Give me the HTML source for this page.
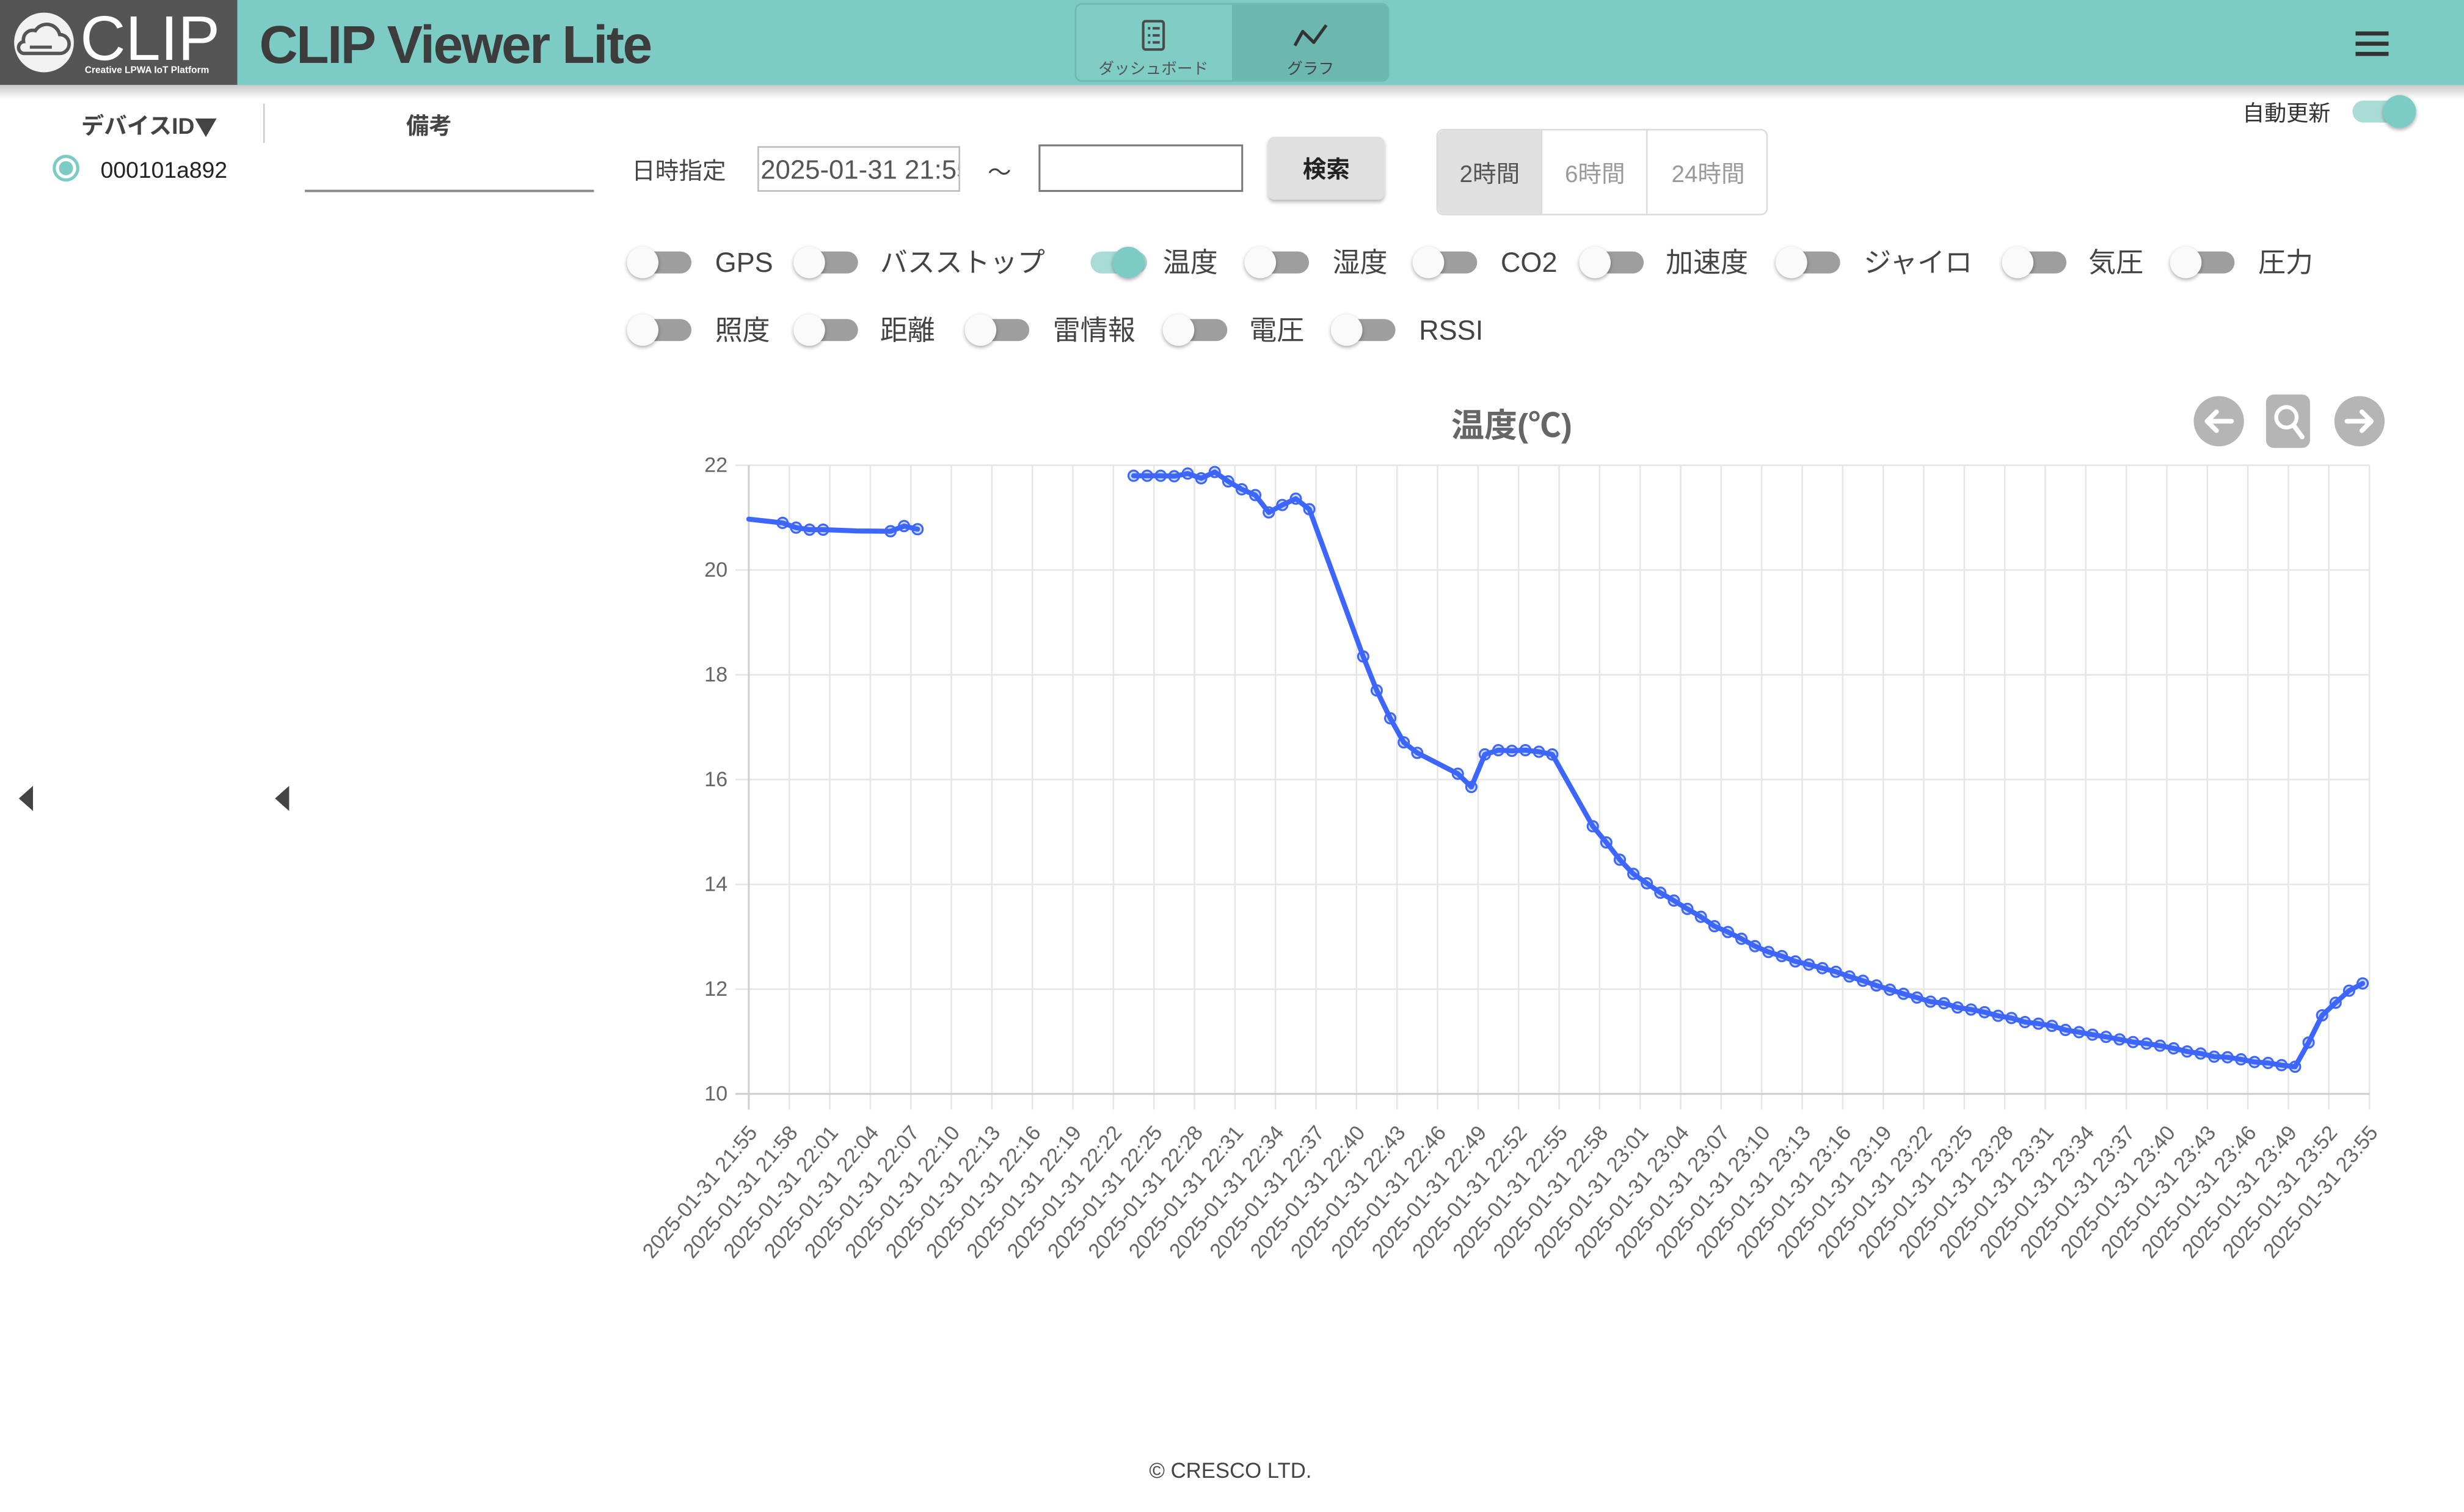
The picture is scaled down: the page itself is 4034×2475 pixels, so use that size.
<!DOCTYPE html>
<html><head><meta charset="utf-8"><title>CLIP Viewer Lite</title>
<style>
html,body{margin:0;padding:0;width:4034px;height:2475px;overflow:hidden;background:#fff;}
svg{display:block;}
</style></head>
<body>
<svg xmlns="http://www.w3.org/2000/svg" width="4034" height="2475" viewBox="0 0 1568 962" preserveAspectRatio="none" font-family='"Liberation Sans","Noto Sans CJK JP",sans-serif'>
<defs>
<filter id="sh" x="-60%" y="-60%" width="220%" height="220%"><feDropShadow dx="0" dy="1" stdDeviation="1.2" flood-color="#000" flood-opacity="0.35"/></filter>
<filter id="sh2" x="-20%" y="-20%" width="140%" height="160%"><feDropShadow dx="0" dy="1.5" stdDeviation="1.2" flood-color="#000" flood-opacity="0.3"/></filter>
<linearGradient id="hs" x1="0" y1="0" x2="0" y2="1"><stop offset="0" stop-color="#000" stop-opacity="0.22"/><stop offset="1" stop-color="#000" stop-opacity="0"/></linearGradient>
<clipPath id="c1"><rect x="483" y="94" width="127" height="27"/></clipPath>
</defs>
<rect x="0" y="0" width="1568" height="962" fill="#fff"/>

<!-- Header -->
<rect x="0" y="54" width="1568" height="9" fill="url(#hs)"/>
<rect x="0" y="0" width="1568" height="54" fill="#7ccbc4"/>
<rect x="0" y="0" width="151" height="54" fill="#555"/>
<circle cx="28" cy="27" r="19" fill="#f2f2f2"/>
<path d="M15 34 H38 A6 6 0 0 0 38 22 A8.5 8.5 0 0 0 22.5 19.5 A6 6 0 0 0 15 26.5 A3.8 3.8 0 0 0 15 34 Z" fill="none" stroke="#555" stroke-width="2.2"/>
<path d="M19 30 H33" stroke="#555" stroke-width="2"/>
<text x="51" y="38" font-size="40" fill="#fff">CLIP</text>
<text x="54" y="46.5" font-size="6" font-weight="bold" fill="#fff">Creative LPWA IoT Platform</text>
<text x="165" y="40" font-size="34" font-weight="bold" fill="#3c3c3c" letter-spacing="-1">CLIP Viewer Lite</text>

<rect x="684.5" y="2.5" width="199" height="49" rx="4" fill="#80cdc6" stroke="rgba(0,0,0,0.1)"/>
<path d="M784 3 H879.5 A4 4 0 0 1 883.5 7 V47 A4 4 0 0 1 879.5 51 H784 Z" fill="#6cb8b1"/>
<rect x="727.5" y="13.5" width="13" height="18" rx="1.5" fill="none" stroke="#4a4a4a" stroke-width="1.6"/>
<path d="M730.5 18 h1.5 M730.5 22.5 h1.5 M730.5 27 h1.5 M733.5 18 h4.5 M733.5 22.5 h4.5 M733.5 27 h4.5" stroke="#4a4a4a" stroke-width="1.6"/>
<text x="734" y="44" font-size="10" text-anchor="middle" dominant-baseline="central" fill="#555">ダッシュボード</text>
<polyline points="824,29 829,20 836,27 844,16" fill="none" stroke="#333" stroke-width="2" stroke-linejoin="round"/>
<text x="834" y="44" font-size="10" text-anchor="middle" dominant-baseline="central" fill="#444">グラフ</text>
<rect x="1499" y="20" width="21" height="2.6" fill="#333"/>
<rect x="1499" y="26.5" width="21" height="2.6" fill="#333"/>
<rect x="1499" y="33" width="21" height="2.6" fill="#333"/>

<!-- Left panel -->
<text x="95" y="80" font-size="14.5" font-weight="bold" text-anchor="middle" dominant-baseline="central" fill="#444">デバイスID<tspan font-family='"Noto Sans CJK JP",sans-serif'>▼</tspan></text>
<line x1="168" y1="66" x2="168" y2="91" stroke="#ccc" stroke-width="1"/>
<text x="273" y="80" font-size="14.5" font-weight="bold" text-anchor="middle" dominant-baseline="central" fill="#444">備考</text>
<circle cx="42" cy="107" r="7.5" fill="#fff" stroke="#7ccbc4" stroke-width="2"/>
<circle cx="42" cy="107" r="4.5" fill="#7ccbc4"/>
<text x="64" y="108" font-size="14.5" dominant-baseline="central" fill="#222">000101a892</text>
<line x1="194" y1="121.5" x2="378" y2="121.5" stroke="#8a8a8a" stroke-width="1.5"/>
<polygon points="21,500 21,516 12,508" fill="#444"/>
<polygon points="184,500 184,516 175,508" fill="#444"/>

<!-- Date row -->
<text x="402" y="109" font-size="15" dominant-baseline="central" fill="#444">日時指定</text>
<rect x="482.5" y="93.5" width="128" height="28" fill="#fff" stroke="#bdbdbd"/>
<text x="484" y="108" font-size="17" dominant-baseline="central" fill="#555" clip-path="url(#c1)">2025-01-31 21:55</text>
<text x="636" y="110" font-size="15" text-anchor="middle" dominant-baseline="central" fill="#444">～</text>
<rect x="661.5" y="92.5" width="129" height="29" fill="#fff" stroke="#7a7a7a" stroke-width="1.2"/>
<rect x="807" y="87" width="74" height="40" rx="4" fill="#e0e0e0" filter="url(#sh2)"/>
<text x="844" y="108" font-size="15" font-weight="bold" text-anchor="middle" dominant-baseline="central" fill="#222">検索</text>
<rect x="914.5" y="82.5" width="210" height="54" rx="4" fill="#fff" stroke="#dcdcdc"/>
<path d="M981 83 H919 A4 4 0 0 0 915 87 V132 A4 4 0 0 0 919 136 H981 Z" fill="#e0e0e0"/>
<line x1="981" y1="83" x2="981" y2="136" stroke="#dcdcdc"/>
<line x1="1048" y1="83" x2="1048" y2="136" stroke="#dcdcdc"/>
<text x="948" y="111" font-size="15" text-anchor="middle" dominant-baseline="central" fill="#555">2時間</text>
<text x="1015" y="111" font-size="15" text-anchor="middle" dominant-baseline="central" fill="#9a9a9a">6時間</text>
<text x="1087" y="111" font-size="15" text-anchor="middle" dominant-baseline="central" fill="#9a9a9a">24時間</text>

<text x="1455" y="72" font-size="14" text-anchor="middle" dominant-baseline="central" fill="#333">自動更新</text>
<rect x="1497" y="64" width="40" height="14" rx="7" fill="#aadcd7"/>
<circle cx="1527" cy="71" r="10.5" fill="#7ccbc4" filter="url(#sh)"/>

<!-- Toggles row 1 -->
<g font-size="17.5" fill="#444" dominant-baseline="central">
<rect x="404" y="160" width="36" height="14" rx="7" fill="#9e9e9e"/><circle cx="409" cy="167" r="10" fill="#fafafa" filter="url(#sh)"/><text x="455" y="167">GPS</text>
<rect x="510" y="160" width="36" height="14" rx="7" fill="#9e9e9e"/><circle cx="515" cy="167" r="10" fill="#fafafa" filter="url(#sh)"/><text x="560" y="167">バスストップ</text>
<rect x="694" y="160" width="36" height="14" rx="7" fill="#aadcd7"/><circle cx="718" cy="167" r="10" fill="#7ccbc4" filter="url(#sh)"/><text x="740" y="167">温度</text>
<rect x="797" y="160" width="36" height="14" rx="7" fill="#9e9e9e"/><circle cx="802" cy="167" r="10" fill="#fafafa" filter="url(#sh)"/><text x="848" y="167">湿度</text>
<rect x="904" y="160" width="36" height="14" rx="7" fill="#9e9e9e"/><circle cx="909" cy="167" r="10" fill="#fafafa" filter="url(#sh)"/><text x="955" y="167">CO2</text>
<rect x="1010" y="160" width="36" height="14" rx="7" fill="#9e9e9e"/><circle cx="1015" cy="167" r="10" fill="#fafafa" filter="url(#sh)"/><text x="1060" y="167">加速度</text>
<rect x="1135" y="160" width="36" height="14" rx="7" fill="#9e9e9e"/><circle cx="1140" cy="167" r="10" fill="#fafafa" filter="url(#sh)"/><text x="1186" y="167">ジャイロ</text>
<rect x="1279" y="160" width="36" height="14" rx="7" fill="#9e9e9e"/><circle cx="1284" cy="167" r="10" fill="#fafafa" filter="url(#sh)"/><text x="1329" y="167">気圧</text>
<rect x="1386" y="160" width="36" height="14" rx="7" fill="#9e9e9e"/><circle cx="1391" cy="167" r="10" fill="#fafafa" filter="url(#sh)"/><text x="1437" y="167">圧力</text>
<!-- row 2 -->
<rect x="404" y="203" width="36" height="14" rx="7" fill="#9e9e9e"/><circle cx="409" cy="210" r="10" fill="#fafafa" filter="url(#sh)"/><text x="455" y="210">照度</text>
<rect x="510" y="203" width="36" height="14" rx="7" fill="#9e9e9e"/><circle cx="515" cy="210" r="10" fill="#fafafa" filter="url(#sh)"/><text x="560" y="210">距離</text>
<rect x="619" y="203" width="36" height="14" rx="7" fill="#9e9e9e"/><circle cx="624" cy="210" r="10" fill="#fafafa" filter="url(#sh)"/><text x="670" y="210">雷情報</text>
<rect x="745" y="203" width="36" height="14" rx="7" fill="#9e9e9e"/><circle cx="750" cy="210" r="10" fill="#fafafa" filter="url(#sh)"/><text x="795" y="210">電圧</text>
<rect x="852" y="203" width="36" height="14" rx="7" fill="#9e9e9e"/><circle cx="857" cy="210" r="10" fill="#fafafa" filter="url(#sh)"/><text x="903" y="210">RSSI</text>
</g>

<!-- Chart title & icons -->
<text x="962" y="271" font-size="21" font-weight="bold" text-anchor="middle" dominant-baseline="central" fill="#666">温度(℃)</text>
<circle cx="1412" cy="268" r="16" fill="#b5b5b5"/>
<path d="M1420 268 H1405 M1410.5 262 L1404.5 268 L1410.5 274" fill="none" stroke="#fff" stroke-width="3" stroke-linecap="round" stroke-linejoin="round"/>
<rect x="1442" y="251" width="28" height="34" rx="5" fill="#b5b5b5"/>
<circle cx="1455" cy="265.5" r="6.5" fill="none" stroke="#fff" stroke-width="2.5"/>
<line x1="1459.5" y1="270.5" x2="1465" y2="278" stroke="#fff" stroke-width="3" stroke-linecap="round"/>
<circle cx="1501.5" cy="268" r="16" fill="#b5b5b5"/>
<path d="M1493.5 268 H1508.5 M1503 262 L1509 268 L1503 274" fill="none" stroke="#fff" stroke-width="3" stroke-linecap="round" stroke-linejoin="round"/>

<!-- Grid -->
<path stroke="#e6e6e6" stroke-width="1" fill="none" d="M502.28 296V706M528.07 296V706M553.85 296V706M579.63 296V706M605.41 296V706M631.2 296V706M656.98 296V706M682.76 296V706M708.54 296V706M734.33 296V706M760.11 296V706M785.89 296V706M811.67 296V706M837.46 296V706M863.24 296V706M889.02 296V706M914.8 296V706M940.59 296V706M966.37 296V706M992.15 296V706M1017.93 296V706M1043.72 296V706M1069.5 296V706M1095.28 296V706M1121.06 296V706M1146.85 296V706M1172.63 296V706M1198.41 296V706M1224.19 296V706M1249.98 296V706M1275.76 296V706M1301.54 296V706M1327.32 296V706M1353.11 296V706M1378.89 296V706M1404.67 296V706M1430.45 296V706M1456.24 296V706M1482.02 296V706M1507.8 296V706M468 296H1507.8M468 362.67H1507.8M468 429.33H1507.8M468 496H1507.8M468 562.67H1507.8M468 629.33H1507.8"/>
<path stroke="#d0d0d0" stroke-width="1.2" fill="none" d="M476.5 296V706M468 696H1507.8"/>

<!-- Y labels -->
<g font-size="13.3" fill="#666" text-anchor="end" dominant-baseline="central">
<text x="463" y="296">22</text><text x="463" y="362.7">20</text><text x="463" y="429.3">18</text><text x="463" y="496">16</text><text x="463" y="562.7">14</text><text x="463" y="629.3">12</text><text x="463" y="696">10</text>
</g>

<!-- X labels -->
<g font-size="13.3" fill="#666" text-anchor="end">
<text transform="translate(482.5,721) rotate(-50)">2025-01-31 21:55</text>
<text transform="translate(508.28,721) rotate(-50)">2025-01-31 21:58</text>
<text transform="translate(534.07,721) rotate(-50)">2025-01-31 22:01</text>
<text transform="translate(559.85,721) rotate(-50)">2025-01-31 22:04</text>
<text transform="translate(585.63,721) rotate(-50)">2025-01-31 22:07</text>
<text transform="translate(611.41,721) rotate(-50)">2025-01-31 22:10</text>
<text transform="translate(637.2,721) rotate(-50)">2025-01-31 22:13</text>
<text transform="translate(662.98,721) rotate(-50)">2025-01-31 22:16</text>
<text transform="translate(688.76,721) rotate(-50)">2025-01-31 22:19</text>
<text transform="translate(714.54,721) rotate(-50)">2025-01-31 22:22</text>
<text transform="translate(740.33,721) rotate(-50)">2025-01-31 22:25</text>
<text transform="translate(766.11,721) rotate(-50)">2025-01-31 22:28</text>
<text transform="translate(791.89,721) rotate(-50)">2025-01-31 22:31</text>
<text transform="translate(817.67,721) rotate(-50)">2025-01-31 22:34</text>
<text transform="translate(843.46,721) rotate(-50)">2025-01-31 22:37</text>
<text transform="translate(869.24,721) rotate(-50)">2025-01-31 22:40</text>
<text transform="translate(895.02,721) rotate(-50)">2025-01-31 22:43</text>
<text transform="translate(920.8,721) rotate(-50)">2025-01-31 22:46</text>
<text transform="translate(946.59,721) rotate(-50)">2025-01-31 22:49</text>
<text transform="translate(972.37,721) rotate(-50)">2025-01-31 22:52</text>
<text transform="translate(998.15,721) rotate(-50)">2025-01-31 22:55</text>
<text transform="translate(1023.93,721) rotate(-50)">2025-01-31 22:58</text>
<text transform="translate(1049.72,721) rotate(-50)">2025-01-31 23:01</text>
<text transform="translate(1075.5,721) rotate(-50)">2025-01-31 23:04</text>
<text transform="translate(1101.28,721) rotate(-50)">2025-01-31 23:07</text>
<text transform="translate(1127.06,721) rotate(-50)">2025-01-31 23:10</text>
<text transform="translate(1152.85,721) rotate(-50)">2025-01-31 23:13</text>
<text transform="translate(1178.63,721) rotate(-50)">2025-01-31 23:16</text>
<text transform="translate(1204.41,721) rotate(-50)">2025-01-31 23:19</text>
<text transform="translate(1230.19,721) rotate(-50)">2025-01-31 23:22</text>
<text transform="translate(1255.98,721) rotate(-50)">2025-01-31 23:25</text>
<text transform="translate(1281.76,721) rotate(-50)">2025-01-31 23:28</text>
<text transform="translate(1307.54,721) rotate(-50)">2025-01-31 23:31</text>
<text transform="translate(1333.32,721) rotate(-50)">2025-01-31 23:34</text>
<text transform="translate(1359.11,721) rotate(-50)">2025-01-31 23:37</text>
<text transform="translate(1384.89,721) rotate(-50)">2025-01-31 23:40</text>
<text transform="translate(1410.67,721) rotate(-50)">2025-01-31 23:43</text>
<text transform="translate(1436.45,721) rotate(-50)">2025-01-31 23:46</text>
<text transform="translate(1462.24,721) rotate(-50)">2025-01-31 23:49</text>
<text transform="translate(1488.02,721) rotate(-50)">2025-01-31 23:52</text>
<text transform="translate(1513.8,721) rotate(-50)">2025-01-31 23:55</text>
</g>

<!-- Data lines -->
<g fill="none" stroke="#3d66ff" stroke-width="3.2" stroke-linejoin="round" stroke-linecap="round">
<polyline points="476.5,330.3 498.0,332.7 506.6,335.7 515.2,337.0 523.8,337.0 545,337.8 566.7,338.0 575.3,334.7 583.9,336.7"/>
<polyline points="721.4,302.7 730.0,302.7 738.6,302.7 747.2,303.0 755.8,301.3 764.4,304.3 773.0,300.3 781.6,306.3 790.2,311.3 798.8,315.0 807.4,326.0 816.0,321.3 824.6,317.3 833.2,324.0 867.5,417.7 876.1,439.3 884.7,457.0 893.3,472.3 901.9,479.0 927.7,492.3 936.3,500.7 944.9,480.0 953.5,477.3 962.1,477.7 970.7,477.3 979.3,478.3 987.8,480.0 1013.6,525.7 1022.2,536.0 1030.8,547.0 1039.4,556.0 1048.0,562.0 1056.6,568.0 1065.2,573.0 1073.8,578.3 1082.4,583.3 1091.0,589.3 1099.6,593.0 1108.2,597.3 1116.8,602.0 1125.4,605.7 1133.9,608.3 1142.5,611.7 1151.1,613.7 1159.7,616.0 1168.3,618.3 1176.9,621.3 1185.5,624.0 1194.1,627.0 1202.7,629.7 1211.3,632.3 1219.9,634.7 1228.5,637.3 1237.1,638.3 1245.7,641.0 1254.3,642.3 1262.9,644.0 1271.5,646.3 1280.0,647.7 1288.6,650.3 1297.2,651.3 1305.8,652.7 1314.4,655.3 1323.0,656.7 1331.6,658.3 1340.2,659.7 1348.8,661.3 1357.4,663.0 1366.0,664.0 1374.6,665.3 1383.2,667.0 1391.8,669.0 1400.4,670.3 1409.0,672.3 1417.5,672.7 1426.1,674.0 1434.7,675.7 1443.3,676.3 1451.9,677.7 1460.5,678.7 1469.1,663.3 1477.7,646.0 1486.3,638.0 1494.9,630.3 1503.5,625.7"/>
</g>

<!-- Markers -->
<g fill="rgba(61,102,255,0.25)" stroke="#3d66ff" stroke-width="1.2">
<circle cx="498.0" cy="332.7" r="3.3"/><circle cx="506.6" cy="335.7" r="3.3"/><circle cx="515.2" cy="337.0" r="3.3"/><circle cx="523.8" cy="337.0" r="3.3"/><circle cx="566.7" cy="338.0" r="3.3"/><circle cx="575.3" cy="334.7" r="3.3"/><circle cx="583.9" cy="336.7" r="3.3"/>
<circle cx="721.4" cy="302.7" r="3.3"/><circle cx="730.0" cy="302.7" r="3.3"/><circle cx="738.6" cy="302.7" r="3.3"/><circle cx="747.2" cy="303.0" r="3.3"/><circle cx="755.8" cy="301.3" r="3.3"/><circle cx="764.4" cy="304.3" r="3.3"/><circle cx="773.0" cy="300.3" r="3.3"/><circle cx="781.6" cy="306.3" r="3.3"/><circle cx="790.2" cy="311.3" r="3.3"/><circle cx="798.8" cy="315.0" r="3.3"/><circle cx="807.4" cy="326.0" r="3.3"/><circle cx="816.0" cy="321.3" r="3.3"/><circle cx="824.6" cy="317.3" r="3.3"/><circle cx="833.2" cy="324.0" r="3.3"/>
<circle cx="867.5" cy="417.7" r="3.3"/><circle cx="876.1" cy="439.3" r="3.3"/><circle cx="884.7" cy="457.0" r="3.3"/><circle cx="893.3" cy="472.3" r="3.3"/><circle cx="901.9" cy="479.0" r="3.3"/><circle cx="927.7" cy="492.3" r="3.3"/><circle cx="936.3" cy="500.7" r="3.3"/><circle cx="944.9" cy="480.0" r="3.3"/><circle cx="953.5" cy="477.3" r="3.3"/><circle cx="962.1" cy="477.7" r="3.3"/><circle cx="970.7" cy="477.3" r="3.3"/><circle cx="979.3" cy="478.3" r="3.3"/><circle cx="987.8" cy="480.0" r="3.3"/>
<circle cx="1013.6" cy="525.7" r="3.3"/><circle cx="1022.2" cy="536.0" r="3.3"/><circle cx="1030.8" cy="547.0" r="3.3"/><circle cx="1039.4" cy="556.0" r="3.3"/><circle cx="1048.0" cy="562.0" r="3.3"/><circle cx="1056.6" cy="568.0" r="3.3"/><circle cx="1065.2" cy="573.0" r="3.3"/><circle cx="1073.8" cy="578.3" r="3.3"/><circle cx="1082.4" cy="583.3" r="3.3"/><circle cx="1091.0" cy="589.3" r="3.3"/><circle cx="1099.6" cy="593.0" r="3.3"/><circle cx="1108.2" cy="597.3" r="3.3"/><circle cx="1116.8" cy="602.0" r="3.3"/><circle cx="1125.4" cy="605.7" r="3.3"/><circle cx="1133.9" cy="608.3" r="3.3"/><circle cx="1142.5" cy="611.7" r="3.3"/><circle cx="1151.1" cy="613.7" r="3.3"/><circle cx="1159.7" cy="616.0" r="3.3"/><circle cx="1168.3" cy="618.3" r="3.3"/><circle cx="1176.9" cy="621.3" r="3.3"/><circle cx="1185.5" cy="624.0" r="3.3"/><circle cx="1194.1" cy="627.0" r="3.3"/><circle cx="1202.7" cy="629.7" r="3.3"/><circle cx="1211.3" cy="632.3" r="3.3"/><circle cx="1219.9" cy="634.7" r="3.3"/><circle cx="1228.5" cy="637.3" r="3.3"/><circle cx="1237.1" cy="638.3" r="3.3"/><circle cx="1245.7" cy="641.0" r="3.3"/><circle cx="1254.3" cy="642.3" r="3.3"/><circle cx="1262.9" cy="644.0" r="3.3"/><circle cx="1271.5" cy="646.3" r="3.3"/><circle cx="1280.0" cy="647.7" r="3.3"/><circle cx="1288.6" cy="650.3" r="3.3"/><circle cx="1297.2" cy="651.3" r="3.3"/><circle cx="1305.8" cy="652.7" r="3.3"/><circle cx="1314.4" cy="655.3" r="3.3"/><circle cx="1323.0" cy="656.7" r="3.3"/><circle cx="1331.6" cy="658.3" r="3.3"/><circle cx="1340.2" cy="659.7" r="3.3"/><circle cx="1348.8" cy="661.3" r="3.3"/><circle cx="1357.4" cy="663.0" r="3.3"/><circle cx="1366.0" cy="664.0" r="3.3"/><circle cx="1374.6" cy="665.3" r="3.3"/><circle cx="1383.2" cy="667.0" r="3.3"/><circle cx="1391.8" cy="669.0" r="3.3"/><circle cx="1400.4" cy="670.3" r="3.3"/><circle cx="1409.0" cy="672.3" r="3.3"/><circle cx="1417.5" cy="672.7" r="3.3"/><circle cx="1426.1" cy="674.0" r="3.3"/><circle cx="1434.7" cy="675.7" r="3.3"/><circle cx="1443.3" cy="676.3" r="3.3"/><circle cx="1451.9" cy="677.7" r="3.3"/><circle cx="1460.5" cy="678.7" r="3.3"/><circle cx="1469.1" cy="663.3" r="3.3"/><circle cx="1477.7" cy="646.0" r="3.3"/><circle cx="1486.3" cy="638.0" r="3.3"/><circle cx="1494.9" cy="630.3" r="3.3"/><circle cx="1503.5" cy="625.7" r="3.3"/>
</g>

<!-- Footer -->
<text x="783" y="936" font-size="13.5" text-anchor="middle" dominant-baseline="central" fill="#444">© CRESCO LTD.</text>
</svg>
</body></html>
